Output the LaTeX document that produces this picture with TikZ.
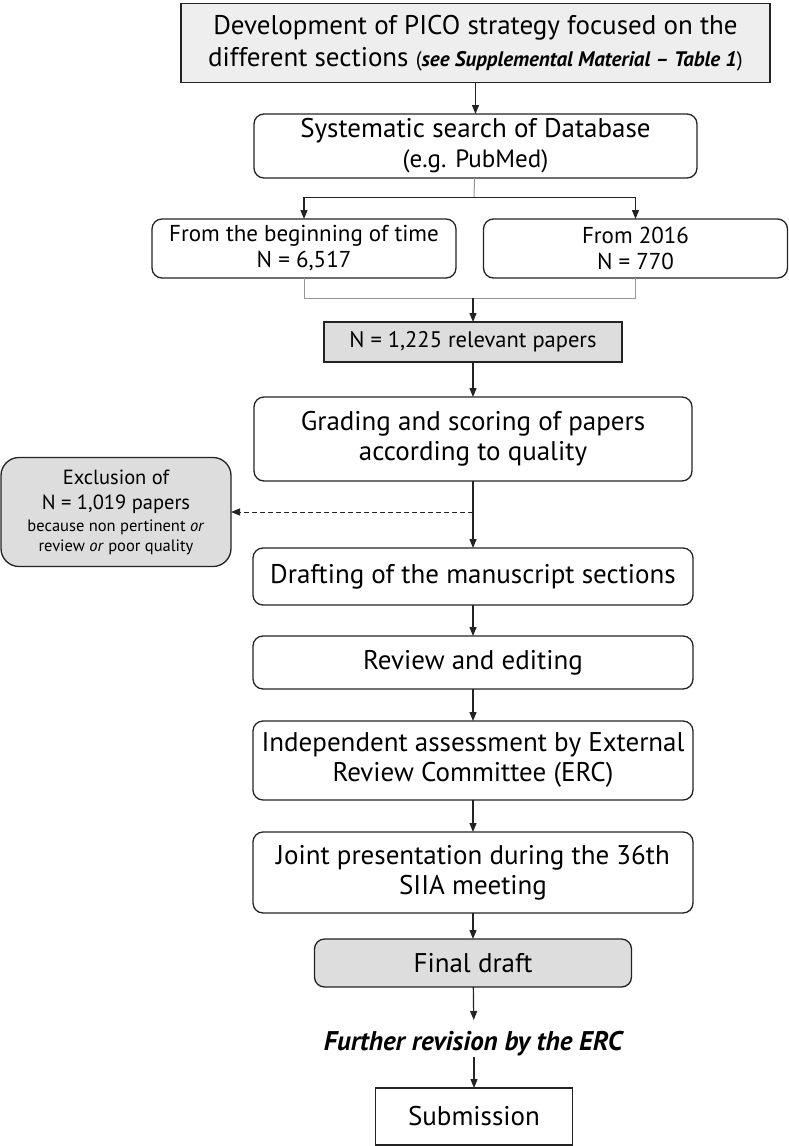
\documentclass[tikz,border=0pt]{standalone}
\usepackage{fontspec}
\setmainfont{PT Sans}
\usetikzlibrary{positioning,arrows.meta}
\definecolor{boxline}{RGB}{35,35,35}
\definecolor{boxgrey}{RGB}{221,221,221}
\definecolor{boxlight}{RGB}{238,238,238}
\definecolor{forkgrey}{RGB}{150,150,150}
\tikzset{
  flowpic/.style={
    x=1pt,y=-1pt
    ,node distance=30pt
    ,inner sep=0pt
    ,outer sep=0pt
  }
  ,bigfont/.style={font=\fontsize{27}{30}\selectfont}
  ,midfont/.style={font=\fontsize{23}{26}\selectfont}
  ,stage/.style={draw=boxline,line width=1.3pt,rounded corners=10pt
    ,align=center,minimum width=440pt,bigfont}
  ,greystage/.style={stage,fill=boxgrey}
  ,branch/.style={stage,midfont,minimum width=304pt,minimum height=59pt}
  ,countbox/.style={stage,font=\fontsize{22.5}{26}\selectfont
    ,rounded corners=0pt,fill=boxgrey
    ,minimum width=298pt,minimum height=40pt}
  ,link/.style={line width=1.2pt,draw=boxline
    ,-{Triangle[length=9pt,width=7pt]}}
  ,forkline/.style={line width=1pt,draw=forkgrey}
}
\newcommand\smallbold[1]{{\fontsize{21}{22}\selectfont(\textbf{\textit{#1}})}}
\newcommand\smallnote[1]{{\fontsize{16.5}{18}\selectfont #1}}

\begin{document}
\begin{tikzpicture}[flowpic]
  \useasboundingbox (0,0) rectangle (789,1146);
  % search part
  \node[stage,rounded corners=0pt,fill=boxlight,minimum width=589pt
    ,minimum height=79pt] (pico) at (475.5,43)
    {Development of PICO strategy focused on the\\[2pt]
     different sections \smallbold{see Supplemental Material – Table 1}};
  \node[stage,minimum width=443pt,minimum height=64pt,below=31.5pt of pico]
    (search) {Systematic search of Database\\
    {\fontsize{25}{26}\selectfont (e.g. PubMed)}};
  \node[branch] (early) at (304,248.5)
    {From the beginning of time\\N = 6,517};
  \node[branch] (recent) at (635.5,248.5) {From 2016\\N = 770};
  \node[countbox] (relevant) at (473,342) {N = 1,225 relevant papers};
  \coordinate (fork) at (474,197);
  \coordinate (merge) at (473,298);
  % review part
  \node[stage,minimum width=438pt,minimum height=84pt,below=35pt of relevant]
    (grading) {Grading and scoring of papers\\according to quality};
  \node[greystage,rounded corners=18pt,font=\fontsize{20.5}{25}\selectfont
    ,minimum width=230pt,minimum height=109pt] (exclusion) at (116,512)
    {Exclusion of\\N = 1,019 papers\\[-3pt]
     \smallnote{because non pertinent \textit{or}}\\[-5pt]
     \smallnote{review \textit{or} poor quality}};
  \node[stage,minimum height=57pt,below=67pt of grading] (drafting)
    {Drafting of the manuscript sections};
  \node[stage,minimum height=53pt,below=31pt of drafting] (editing)
    {Review and editing};
  \node[stage,minimum height=79pt,below=32pt of editing] (assess)
    {Independent assessment by External\\Review Committee (ERC)};
  \node[stage,minimum height=81pt,below=32pt of assess] (joint)
    {Joint presentation during the 36th\\SIIA meeting};
  \node[greystage,minimum width=317pt,minimum height=48pt,below=26pt of joint]
    (final) {Final draft};
  \node[font=\fontsize{27}{30}\selectfont,anchor=base,text height=30pt
    ,text depth=7pt] (further) at (474,1050)
    {\textbf{\textit{Further revision by the ERC}}};
  \node[stage,rounded corners=0pt,minimum width=197pt,minimum height=57pt
    ,below=31pt of further] (submit) {Submission};
  % connectors
  \draw[link] (pico) -- (search);
  \draw[forkline] (search) -- (fork);
  \draw[line width=1pt,draw=boxline] (fork -| early) -- (fork -| recent);
  \draw[link] (fork -| early) -- (early);
  \draw[link] (fork -| recent) -- (recent);
  \draw[forkline] (early.south) -- (early.south |- merge)
    -- (recent.south |- merge) -- (recent.south);
  \draw[link] (merge) -- (relevant);
  \draw[link] (relevant) -- (grading);
  \draw[link] (grading) -- (drafting);
  \draw[link,dash pattern=on 5pt off 3pt,line width=1pt]
    (grading.south |- exclusion.east) -- (exclusion.east);
  \draw[link] (drafting) -- (editing);
  \draw[link] (editing) -- (assess);
  \draw[link] (assess) -- (joint);
  \draw[link] (joint) -- (final);
  \draw[link] (final) -- (further);
  \draw[link] (further) -- (submit);
\end{tikzpicture}
\end{document}
